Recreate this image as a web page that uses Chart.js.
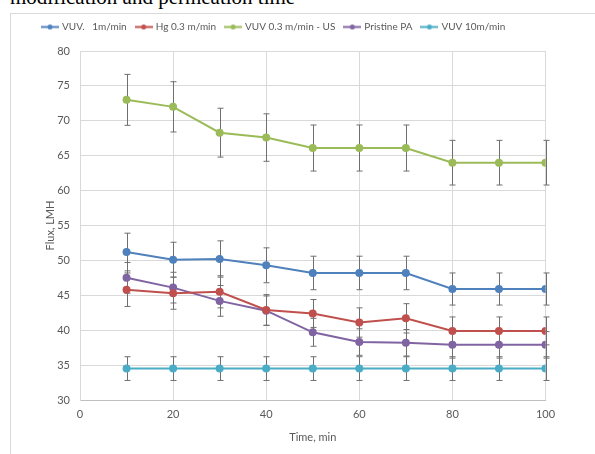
<!DOCTYPE html>
<html>
<head>
<meta charset="utf-8">
<script src="https://cdn.jsdelivr.net/npm/chart.js@4.4.1/dist/chart.umd.min.js"></script>
<style>
  html, body { margin: 0; padding: 0; background: #fff; }
  #wrap { position: relative; width: 595px; height: 454px; overflow: hidden; }
  #caption {
    position: absolute; left: 10px; top: -13px; margin: 0;
    font-family: "Liberation Serif", serif; font-size: 21px; line-height: 21px;
    color: #000; white-space: nowrap;
  }
  #frame {
    position: absolute; left: 10px; top: 13px; right: -2px; bottom: -2px;
    border-left: 1px solid #d9d9d9; border-top: 1px solid #d9d9d9;
  }
  canvas { position: absolute; left: 0; top: 0; }
</style>
</head>
<body>
<div id="wrap">
  <p id="caption">modification and permeation time</p>
  <div id="frame"></div>
  <canvas id="flux" width="595" height="454"></canvas>
</div>
<script>
const times = [10, 20, 30, 40, 50, 60, 70, 80, 90, 100];

const vuv1 = [51.2, 50.1, 50.2, 49.3, 48.2, 48.2, 48.2, 45.9, 45.9, 45.9];
const vuv1Err = [2.7, 2.5, 2.6, 2.5, 2.4, 2.4, 2.4, 2.3, 2.3, 2.3];

const hg03 = [45.8, 45.3, 45.5, 42.9, 42.4, 41.1, 41.7, 39.9, 39.9, 39.9];
const hg03Err = [2.4, 2.3, 2.3, 2.2, 2.0, 2.1, 2.1, 2.0, 2.0, 2.0];

const vuv03us = [73.0, 72.0, 68.3, 67.6, 66.1, 66.1, 66.1, 64.0, 64.0, 64.0];
const vuv03usErr = [3.65, 3.6, 3.5, 3.4, 3.3, 3.3, 3.3, 3.2, 3.2, 3.2];

const pristine = [47.5, 46.1, 44.2, 42.8, 39.7, 38.3, 38.2, 37.9, 37.9, 37.9];
const pristineErr = [2.2, 2.2, 2.2, 2.1, 2.0, 1.9, 1.9, 1.9, 1.9, 1.9];

const vuv10 = [34.5, 34.5, 34.5, 34.5, 34.5, 34.5, 34.5, 34.5, 34.5, 34.5];
const vuv10Err = [1.7, 1.7, 1.7, 1.7, 1.7, 1.7, 1.7, 1.7, 1.7, 1.7];

const seriesNames = ["VUV.   1m/min", "Hg 0.3 m/min", "VUV 0.3 m/min - US", "Pristine PA", "VUV 10m/min"];
const seriesValues = [vuv1, hg03, vuv03us, pristine, vuv10];
const seriesErrors = [vuv1Err, hg03Err, vuv03usErr, pristineErr, vuv10Err];
const colors = ["#4f81bd", "#c0504d", "#9bbb59", "#8064a2", "#4bacc6"];

const FONT = "Lato, 'Open Sans', sans-serif";
const GREY = "#595959";

// small line+marker icon for the legend
function legendIcon(color) {
  const c = document.createElement("canvas");
  c.width = 18; c.height = 7;
  const g = c.getContext("2d");
  g.strokeStyle = color; g.lineWidth = 2;
  g.beginPath(); g.moveTo(0, 3.5); g.lineTo(18, 3.5); g.stroke();
  g.fillStyle = color;
  g.beginPath(); g.arc(9, 3.5, 2.5, 0, Math.PI * 2); g.fill();
  return c;
}

const errorBars = {
  id: "errorBars",
  beforeDatasetsDraw(chart) {
    const { ctx, scales: { x, y } } = chart;
    ctx.save();
    ctx.strokeStyle = "#6f6f6f";
    ctx.lineWidth = 1;
    chart.data.datasets.forEach((ds, di) => {
      const errs = seriesErrors[di];
      ds.data.forEach((p, i) => {
        const px = Math.round(x.getPixelForValue(p.x)) + 0.5;
        const top = y.getPixelForValue(p.y + errs[i]);
        const bot = y.getPixelForValue(p.y - errs[i]);
        ctx.beginPath();
        ctx.moveTo(px, top); ctx.lineTo(px, bot);
        ctx.moveTo(px - 3, top); ctx.lineTo(px + 3, top);
        ctx.moveTo(px - 3, bot); ctx.lineTo(px + 3, bot);
        ctx.stroke();
      });
    });
    ctx.restore();
  }
};

// keep the legend on one row and reserve space down to the plot top
const legendHeight = {
  id: "legendHeight",
  beforeInit(chart) {
    const fit = chart.legend.fit;
    chart.legend.fit = function () {
      this.maxWidth = 600;
      fit.bind(chart.legend)();
      this.height = 39;
    };
  }
};

new Chart(document.getElementById("flux"), {
  type: "line",
  data: {
    datasets: seriesNames.map((name, k) => ({
      label: name,
      data: times.map((t, i) => ({ x: t, y: seriesValues[k][i] })),
      borderColor: colors[k],
      backgroundColor: colors[k],
      pointStyle: "circle",
      borderWidth: 2,
      pointRadius: 3,
      pointHoverRadius: 3,
      fill: false,
      tension: 0,
    })),
  },
  options: {
    responsive: false,
    animation: false,
    layout: { padding: { left: 33, right: 49.5, top: 12, bottom: 0 } },
    plugins: {
      legend: {
        position: "top",
        align: "start",
        labels: {
          usePointStyle: true,
          pointStyleWidth: 14,
          padding: 10,
          color: GREY,
          font: { family: FONT, size: 10 },
          generateLabels(chart) {
            return chart.data.datasets.map((ds, i) => ({
              text: ds.label,
              fillStyle: colors[i],
              strokeStyle: colors[i],
              fontColor: GREY,
              lineWidth: 0,
              pointStyle: legendIcon(colors[i]),
              datasetIndex: i,
              hidden: false,
            }));
          },
        },
      },
      tooltip: { enabled: false },
    },
    scales: {
      x: {
        type: "linear",
        min: 0,
        max: 100,
        ticks: { stepSize: 20, padding: 8, color: GREY, font: { family: FONT, size: 11 } },
        grid: { color: "#d9d9d9", drawTicks: false },
        border: { color: "#bfbfbf" },
        title: {
          display: true,
          text: "Time, min",
          color: GREY,
          font: { family: FONT, size: 11 },
          padding: { top: 0, bottom: 10.4 },
        },
        afterFit(scale) { scale.height = 54; },
      },
      y: {
        min: 30,
        max: 80,
        ticks: { stepSize: 5, padding: 10, color: GREY, font: { family: FONT, size: 11 } },
        grid: { color: "#d9d9d9", drawTicks: false },
        border: { color: "#d9d9d9" },
        title: {
          display: true,
          text: "Flux, LMH",
          color: GREY,
          font: { family: FONT, size: 11 },
          padding: { top: 10.4, bottom: 0 },
        },
        afterFit(scale) { scale.width = 47; },
      },
    },
  },
  plugins: [errorBars, legendHeight],
});
</script>
</body>
</html>
